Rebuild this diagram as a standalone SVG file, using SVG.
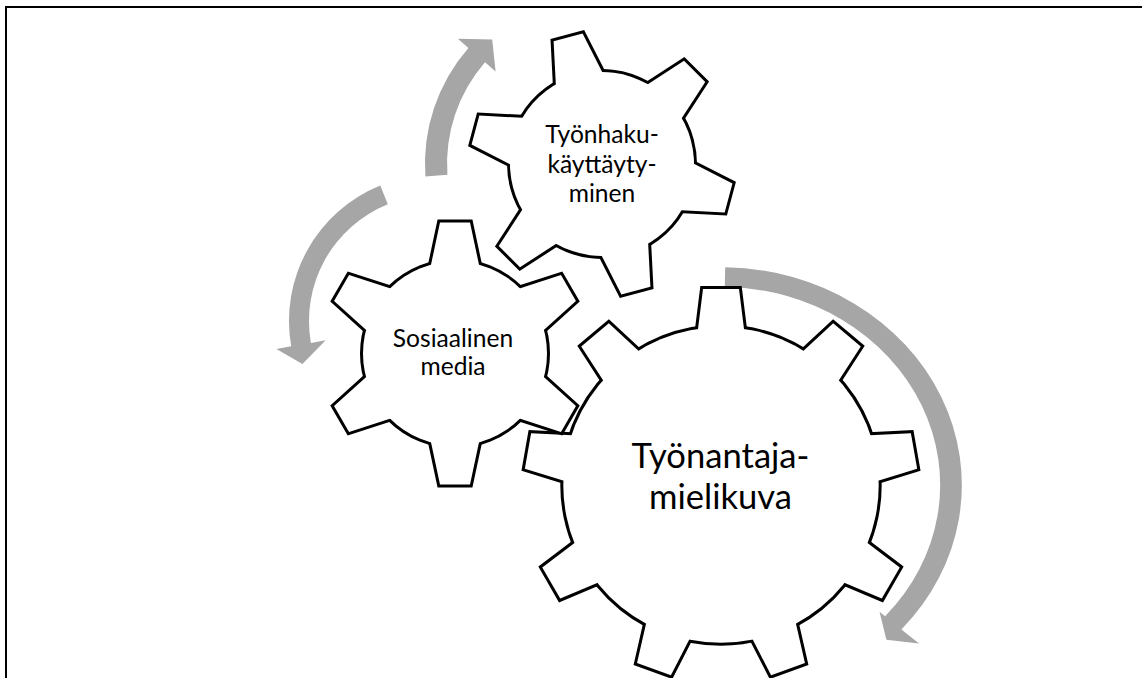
<svg xmlns="http://www.w3.org/2000/svg" width="1142" height="678" viewBox="0 0 1142 678">
  <style>
    .frame { fill: none; stroke: #000; stroke-width: 2; }
    .arrow { fill: #a6a6a6; }
    .edge { fill: #000; stroke: #000; stroke-width: 6; stroke-linejoin: miter; }
    .face { fill: #fff; stroke: none; }
    .label { font-family: Lato, "Liberation Sans", sans-serif; fill: #000; text-anchor: middle; }
    .small { font-size: 24.6px; }
    .big { font-size: 34.6px; }
  </style>
  <defs>
    <!-- one tooth pointing up from the gear centre; the base reaches into the hub -->
    <path id="tooth-small" d="M-28,-70 L-15,-131 L15,-131 L28,-70 Z"/>
    <path id="tooth-large" d="M-26.25,-130 L-18,-196 L18,-196 L26.25,-130 Z"/>
    <!-- six-tooth gear -->
    <g id="gear-small">
      <circle r="92"/>
      <use href="#tooth-small"/>
      <use href="#tooth-small" transform="rotate(60)"/>
      <use href="#tooth-small" transform="rotate(120)"/>
      <use href="#tooth-small" transform="rotate(180)"/>
      <use href="#tooth-small" transform="rotate(240)"/>
      <use href="#tooth-small" transform="rotate(300)"/>
    </g>
    <!-- nine-tooth gear -->
    <g id="gear-large">
      <circle r="157.7"/>
      <use href="#tooth-large"/>
      <use href="#tooth-large" transform="rotate(40)"/>
      <use href="#tooth-large" transform="rotate(80)"/>
      <use href="#tooth-large" transform="rotate(120)"/>
      <use href="#tooth-large" transform="rotate(160)"/>
      <use href="#tooth-large" transform="rotate(200)"/>
      <use href="#tooth-large" transform="rotate(240)"/>
      <use href="#tooth-large" transform="rotate(280)"/>
      <use href="#tooth-large" transform="rotate(320)"/>
    </g>
  </defs>

  <rect class="frame" x="6" y="7" width="1200" height="700"/>

  <!-- curved arrows turning the gears -->
  <g id="connectors">
    <path id="arrow-top" class="arrow" d="M425.4,176.4 A177,177 0 0 1 468.4,47.9 L457.9,38.7 L492.2,39.5 L495.6,71.5 L485.0,62.3 A155,155 0 0 0 447.4,174.8 Z"/>
    <path id="arrow-left" class="arrow" d="M380.3,185.6 A146,146 0 0 0 291.2,346.3 L276.4,348.9 L302.4,364.1 L325.7,340.3 L310.9,342.9 A126,126 0 0 1 387.8,204.2 Z"/>
    <path id="arrow-right" class="arrow" d="M725.2,267.2 A240.9,217.9 0 0 1 901.4,629.4 L919.1,643.5 L886.4,639.8 L879.5,611.8 L885.1,616.3 A219.1,198.1 0 0 0 724.8,286.9 Z"/>
  </g>

  <g id="gear-employer">
    <use href="#gear-large" class="edge" transform="translate(721,485)"/>
    <use href="#gear-large" class="face" transform="translate(721,485)"/>
    <text class="label big" x="720.5" y="468">Työnantaja-</text>
    <text class="label big" x="720.5" y="509">mielikuva</text>
  </g>

  <g id="gear-social">
    <use href="#gear-small" class="edge" transform="translate(455,353.5)"/>
    <use href="#gear-small" class="face" transform="translate(455,353.5)"/>
    <text class="label small" x="453" y="347">Sosiaalinen</text>
    <text class="label small" x="453" y="375">media</text>
  </g>

  <g id="gear-jobsearch">
    <use href="#gear-small" class="edge" transform="translate(602,164) rotate(-15)"/>
    <use href="#gear-small" class="face" transform="translate(602,164) rotate(-15)"/>
    <text class="label small" x="602" y="143">Työnhaku-</text>
    <text class="label small" x="602" y="173">käyttäyty-</text>
    <text class="label small" x="602" y="202">minen</text>
  </g>
</svg>
